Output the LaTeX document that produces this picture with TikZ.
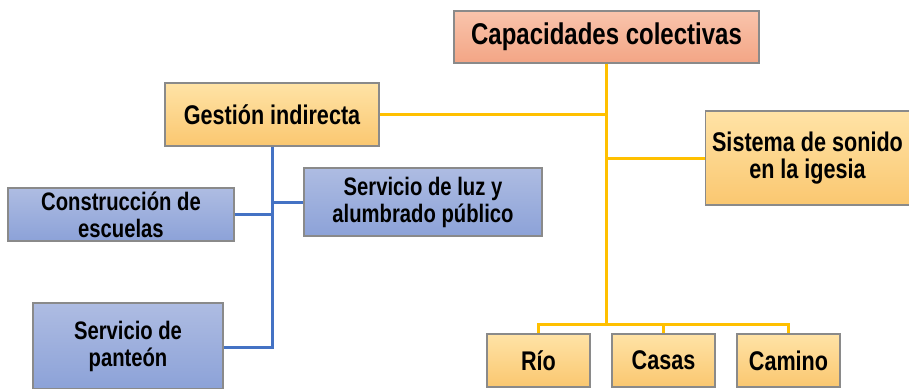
\documentclass[tikz,border=0pt]{standalone}
\usepackage{fontspec}
\setmainfont[FakeStretch=0.8]{Liberation Sans}
\definecolor{salmonT}{HTML}{F9C4AC}
\definecolor{salmonB}{HTML}{F3A585}
\definecolor{yelT}{HTML}{FFE3A6}
\definecolor{yelB}{HTML}{FAC770}
\definecolor{bluT}{HTML}{AEBCE2}
\definecolor{bluB}{HTML}{8CA2D8}
\definecolor{gold}{HTML}{FFC000}
\definecolor{lineblue}{HTML}{4472C4}
\definecolor{edge}{HTML}{8A8A8A}
\tikzset{
  box/.style={draw=edge, line width=1.2pt, align=center, inner sep=0pt,
    font=\bfseries\fontsize{27}{27}\selectfont, text=black},
  redbox/.style={box, top color=salmonT, bottom color=salmonB},
  yelbox/.style={box, top color=yelT, bottom color=yelB},
  blubox/.style={box, top color=bluT, bottom color=bluB, font=\bfseries\fontsize{25.3}{27}\selectfont},
  goldline/.style={draw=gold, line width=3pt},
  blueline/.style={draw=lineblue, line width=3pt},
}
\begin{document}
\begin{tikzpicture}[x=1pt,y=-1pt]
\useasboundingbox (0,0) rectangle (909,388);
% nodes
\node[redbox, minimum width=305pt, minimum height=52pt, font=\bfseries\fontsize{30}{30}\selectfont] (cap) at (606.5,37) {Capacidades colectivas};
\node[yelbox, minimum width=214pt, minimum height=63pt] (ges) at (272,114.5) {Gestión indirecta};
\node[yelbox, minimum width=204pt, minimum height=94pt] (sis) at (807.5,158) {Sistema de sonido\\en la igesia};
\node[yelbox, minimum width=103pt, minimum height=53pt] (rio) at (538.5,360.5) {Río};
\node[yelbox, minimum width=103pt, minimum height=53pt] (cas) at (663.5,360.5) {Casas};
\node[yelbox, minimum width=103pt, minimum height=53pt] (cam) at (788.5,360.5) {Camino};
\node[blubox, minimum width=226pt, minimum height=53pt] (con) at (121,214.5) {Construcción de\\escuelas};
\node[blubox, minimum width=238pt, minimum height=68pt] (luz) at (423,202) {Servicio de luz y\\alumbrado público};
\node[blubox, minimum width=190pt, minimum height=86pt] (pan) at (128,346) {Servicio de\\panteón};
% helper coordinates
\coordinate (trunkbot) at (606.5,324);
\coordinate (bluebot) at (272,347);
% gold connectors
\draw[goldline] (cap.south) -- (trunkbot);
\draw[goldline] (ges.east) -- (ges.east -| cap.south);
\draw[goldline] (sis.west -| cap.south) -- (sis.west);
\draw[goldline] (rio.north) |- (trunkbot) -| (cam.north);
\draw[goldline] (cas.north) -- (cas.north |- trunkbot);
% blue connectors
\draw[blueline] (ges.south) -- (bluebot) -- (pan.east |- bluebot);
\draw[blueline] (con.east) -- (con.east -| ges.south);
\draw[blueline] (luz.west -| ges.south) -- (luz.west);
\end{tikzpicture}
\end{document}
